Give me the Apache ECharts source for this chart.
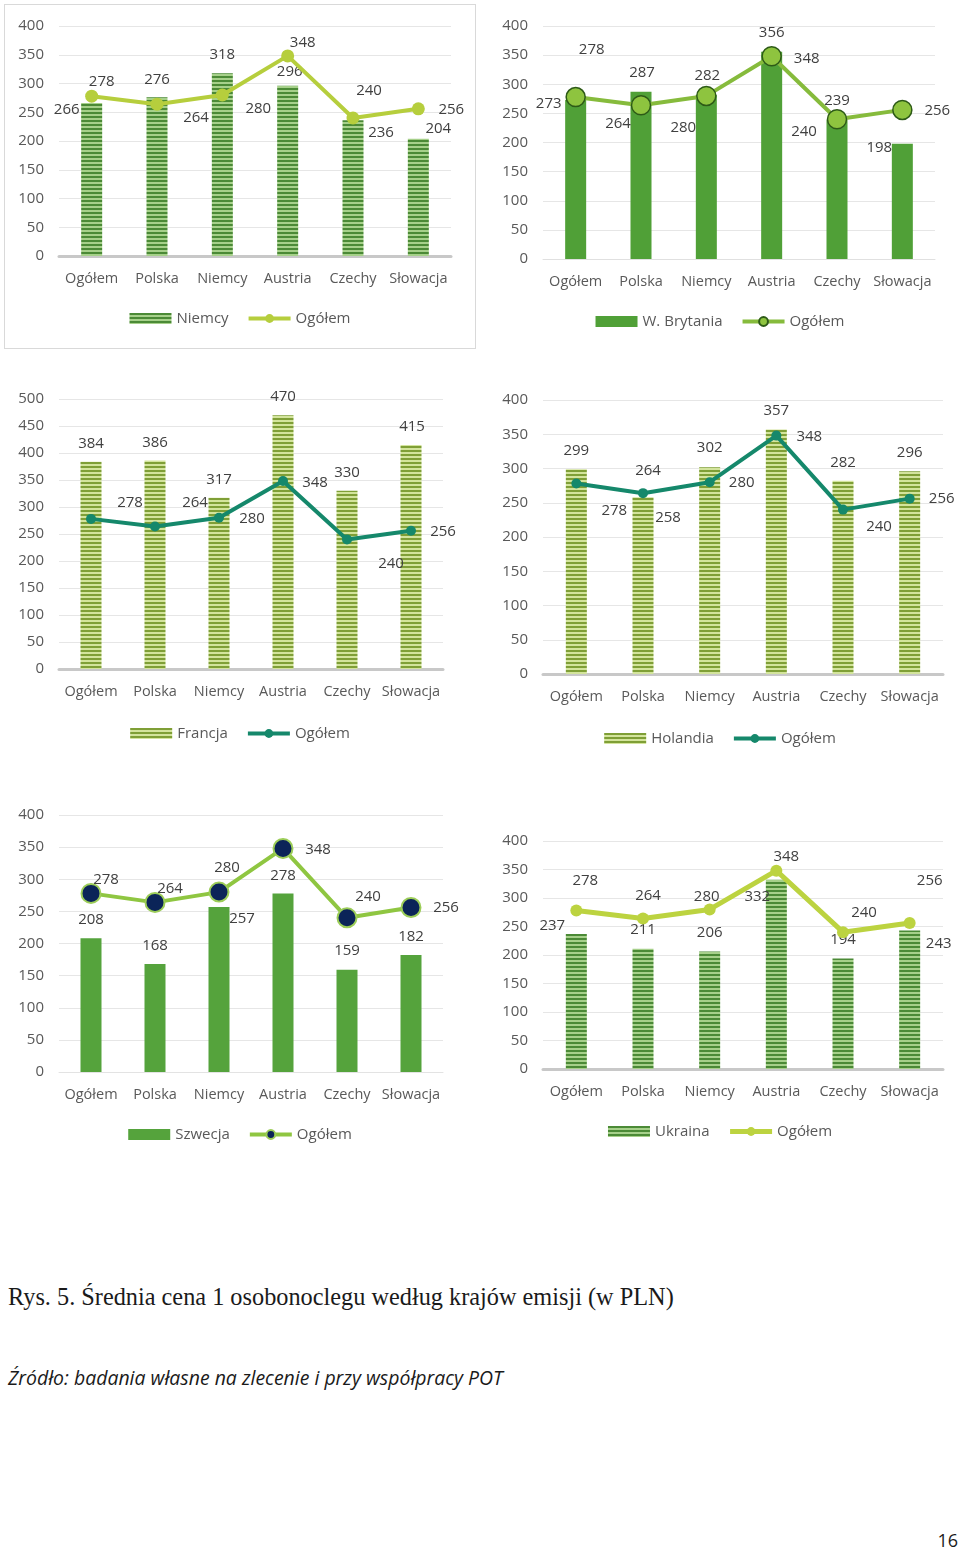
<!DOCTYPE html>
<html><head><meta charset="utf-8">
<script src="https://cdn.jsdelivr.net/npm/echarts/dist/echarts.min.js"></script>
<style>
html,body{margin:0;padding:0;background:#fff;}
body{width:960px;height:1548px;position:relative;overflow:hidden;font-family:'Open Sans',sans-serif;}
.c{position:absolute;}
#box{position:absolute;left:4px;top:4px;width:470px;height:343px;border:1px solid #d9d9d9;}
#cap{position:absolute;left:8px;top:1283px;font-family:'Liberation Serif',serif;font-size:24px;line-height:28px;color:#1a1a1a;white-space:nowrap;}
#src{position:absolute;left:8px;top:1366px;font-family:'Open Sans',sans-serif;font-style:italic;font-size:18px;line-height:24px;color:#1a1a1a;white-space:nowrap;}
#pg{position:absolute;right:2px;top:1528px;font-family:'Open Sans',sans-serif;font-size:18px;line-height:24px;color:#1a1a1a;}
</style>
</head><body>
<div id="box"></div>
<div id="c1" class="c" style="left:0;top:0;width:480px;height:350px"></div>
<div id="c2" class="c" style="left:480px;top:0;width:480px;height:350px"></div>
<div id="c3" class="c" style="left:0;top:370px;width:480px;height:400px"></div>
<div id="c4" class="c" style="left:480px;top:370px;width:480px;height:400px"></div>
<div id="c5" class="c" style="left:0;top:790px;width:480px;height:400px"></div>
<div id="c6" class="c" style="left:480px;top:790px;width:480px;height:400px"></div>
<div id="cap">Rys. 5. Średnia cena 1 osobonoclegu według krajów emisji (w PLN)</div>
<div id="src">Źródło: badania własne na zlecenie i przy współpracy POT</div>
<div id="pg">16</div>
<script>
// ---- data ----
const categories = ['Ogółem', 'Polska', 'Niemcy', 'Austria', 'Czechy', 'Słowacja'];
const ogolem = [278, 264, 280, 348, 240, 256];
const niemcy = [266, 276, 318, 296, 236, 204];
const wBrytania = [273, 287, 282, 356, 239, 198];
const francja = [384, 386, 317, 470, 330, 415];
const holandia = [299, 258, 302, 357, 282, 296];
const szwecja = [208, 168, 257, 278, 159, 182];
const ukraina = [237, 211, 206, 332, 194, 243];
const lineName = 'Ogółem';

// ---- styling helpers ----
function stripes(dark, light) {
  const c = document.createElement('canvas');
  c.width = 8; c.height = 4;
  const g = c.getContext('2d');
  g.fillStyle = light; g.fillRect(0, 0, 8, 4);
  g.fillStyle = dark; g.fillRect(0, 0, 8, 2);
  return { image: c, repeat: 'repeat' };
}
const darkStripe = stripes('#4b8a36', '#a6d08a');
const lightStripe = stripes('#7f9f36', '#d3e49c');

const configs = [
  { el: 'c1', grid: { left: 59, right: 29, top: 26, bottom: 94 }, yMax: 400,
    barName: 'Niemcy', barData: niemcy, barColor: darkStripe,
    barOff: [[-25, 16], [0, -9], [0, -9], [2, -5], [28, 21], [20, -1]],
    lineColor: '#b6ce3d', lineWidth: 4, symSize: 13, symColor: '#b6ce3d', symBorder: '#b6ce3d', symBorderW: 0,
    lineOff: [[10, -14], [39, 14], [36, 14], [15, -13], [16, -27], [33, 1]],
    legendTop: 311, legendShift: 4, axisColor: '#c8c8c8', axisW: 3 },
  { el: 'c2', grid: { left: 63, right: 25, top: 26, bottom: 91 }, yMax: 400,
    barName: 'W. Brytania', barData: wBrytania, barColor: '#50a037',
    barOff: [[-27, 13], [1, -10], [1, -10], [0, -10], [0, -10], [-23, 13]],
    lineColor: '#86bb3c', lineWidth: 4, symSize: 19, symColor: '#8ec43f', symBorder: '#2d5a17', symBorderW: 1.5,
    lineOff: [[16, -47], [-23, 19], [-23, 32], [35, 2], [-33, 13], [35, 1]],
    legendTop: 314, legendShift: 8, axisColor: '#e0e0e0', axisW: 1 },
  { el: 'c3', grid: { left: 59, right: 37, top: 29, bottom: 101 }, yMax: 500,
    barName: 'Francja', barData: francja, barColor: lightStripe,
    barOff: [[0, -9], [0, -9], [0, -9], [0, -9], [0, -9], [1, -9]],
    lineColor: '#15886b', lineWidth: 4, symSize: 10, symColor: '#15886b', symBorder: '#15886b', symBorderW: 0,
    lineOff: [[39, -16], [40, -24], [33, 1], [32, 2], [44, 24], [32, 1]],
    legendTop: 356, legendShift: -1, axisColor: '#c8c8c8', axisW: 3 },
  { el: 'c4', grid: { left: 63, right: 17, top: 30, bottom: 96 }, yMax: 400,
    barName: 'Holandia', barData: holandia, barColor: lightStripe,
    barOff: [[0, -9], [25, 29], [0, -10], [0, -10], [0, -9], [0, -10]],
    lineColor: '#15886b', lineWidth: 4, symSize: 10, symColor: '#15886b', symBorder: '#15886b', symBorderW: 0,
    lineOff: [[38, 27], [5, -22], [32, 1], [33, 1], [36, 17], [32, 0]],
    legendTop: 361, legendShift: 12, axisColor: '#c8c8c8', axisW: 3 },
  { el: 'c5', grid: { left: 59, right: 37, top: 25, bottom: 118 }, yMax: 400,
    barName: 'Szwecja', barData: szwecja, barColor: '#55a33c',
    barOff: [[0, -10], [0, -9], [23, 21], [0, -9], [0, -10], [0, -9]],
    lineColor: '#8fc641', lineWidth: 4, symSize: 19, symColor: '#0b2458', symBorder: '#9ccd58', symBorderW: 2,
    lineOff: [[15, -14], [15, -14], [8, -24], [35, 1], [21, -21], [35, 0]],
    legendTop: 337, legendShift: 0, axisColor: '#e3e3e3', axisW: 1 },
  { el: 'c6', grid: { left: 63, right: 17, top: 51, bottom: 121 }, yMax: 400,
    barName: 'Ukraina', barData: ukraina, barColor: darkStripe,
    barOff: [[-24, 1], [0, -10], [0, -10], [-19, 26], [0, -10], [29, 22]],
    lineColor: '#bcd340', lineWidth: 5, symSize: 12, symColor: '#bcd340', symBorder: '#bcd340', symBorderW: 0,
    lineOff: [[9, -30], [5, -23], [-3, -13], [10, -14], [21, -19], [20, -42]],
    legendTop: 334, legendShift: 11, axisColor: '#c8c8c8', axisW: 3 }
];

const font = "'Open Sans', sans-serif";
const labelStyle = { fontFamily: font, fontSize: 15, color: '#404040', lineHeight: 18 };

configs.forEach(cfg => {
  const chart = echarts.init(document.getElementById(cfg.el), null, { renderer: 'canvas' });
  const s = cfg.legendShift;
  const pad = s >= 0 ? [0, 0, 0, 2 * s] : [0, -2 * s, 0, 0];
  chart.setOption({
    animation: false,
    grid: cfg.grid,
    legend: {
      data: [
        { name: cfg.barName, icon: 'rect' },
        { name: lineName, lineStyle: { width: cfg.lineWidth, color: cfg.lineColor } }
      ],
      top: cfg.legendTop, left: 'center', padding: pad,
      itemWidth: 42, itemHeight: 11, itemGap: 18,
      textStyle: { fontFamily: font, fontSize: 15, color: '#595959' }
    },
    xAxis: {
      type: 'category', data: categories,
      axisTick: { show: false },
      axisLine: { lineStyle: { color: cfg.axisColor, width: cfg.axisW } },
      axisLabel: { interval: 0, fontFamily: font, fontSize: 14.5, color: '#595959', margin: 15 }
    },
    yAxis: {
      type: 'value', min: 0, max: cfg.yMax, interval: 50,
      axisLine: { show: false }, axisTick: { show: false },
      axisLabel: { fontFamily: font, fontSize: 15, color: '#595959', margin: 15 },
      splitLine: { lineStyle: { color: '#e6e6e6', width: 1 } }
    },
    series: [
      { name: cfg.barName, type: 'bar', barWidth: 21,
        itemStyle: { color: cfg.barColor },
        label: Object.assign({ show: true, position: 'top', distance: 0 }, labelStyle),
        data: cfg.barData.map((v, i) => ({ value: v, label: { offset: cfg.barOff[i] } })),
        z: 2 },
      { name: lineName, type: 'line', symbol: 'circle', symbolSize: cfg.symSize,
        lineStyle: { color: cfg.lineColor, width: cfg.lineWidth },
        itemStyle: { color: cfg.symColor, borderColor: cfg.symBorder, borderWidth: cfg.symBorderW },
        label: Object.assign({ show: true, position: 'inside' }, labelStyle),
        data: ogolem.map((v, i) => ({ value: v, label: { offset: cfg.lineOff[i] } })),
        z: 3 }
    ]
  });
});

// fit caption widths to the reference
function fit(id, target) {
  const el = document.getElementById(id);
  const w = el.getBoundingClientRect().width;
  const fs = parseFloat(getComputedStyle(el).fontSize);
  el.style.fontSize = (fs * target / w) + 'px';
}
fit('cap', 666);
fit('src', 495);
</script>
</body></html>
